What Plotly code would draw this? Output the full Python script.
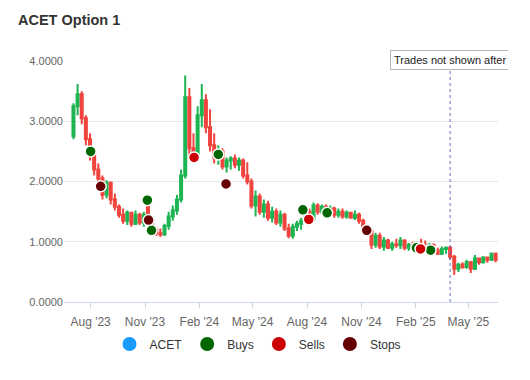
import pandas as pd
import plotly.graph_objects as go

# weekly candles
dates = pd.date_range("2023-07-03", periods=103, freq="7D")
opens = [2.75, 3.25, 3.45, 3.05, 2.70, 2.45, 2.20, 2.05, 1.78, 1.98,
         1.70, 1.58, 1.45, 1.35, 1.48, 1.30, 1.45, 1.32, 1.62, 1.35,
         1.20, 1.14, 1.12, 1.26, 1.42, 1.52, 1.70, 2.10, 3.40, 2.55,
         2.45, 3.10, 3.35, 2.90, 2.60, 2.40, 2.50, 2.25, 2.35, 2.38,
         2.28, 2.35, 2.10, 2.00, 1.60, 1.75, 1.50, 1.62, 1.40, 1.50,
         1.32, 1.45, 1.22, 1.10, 1.25, 1.30, 1.35, 1.50, 1.38, 1.60,
         1.50, 1.58, 1.48, 1.55, 1.45, 1.50, 1.42, 1.48, 1.40, 1.45,
         1.35, 1.22, 1.18, 0.95, 1.10, 0.92, 1.02, 0.90, 0.96, 0.94,
         1.02, 0.90, 0.95, 0.92, 0.96, 0.90, 0.88, 0.95, 0.86, 0.80,
         0.88, 0.90, 0.75, 0.55, 0.62, 0.58, 0.66, 0.55, 0.72, 0.66,
         0.74, 0.70, 0.80]
highs = [3.30, 3.62, 3.50, 3.10, 2.80, 2.50, 2.30, 2.10, 2.02, 2.00,
         1.80, 1.62, 1.55, 1.52, 1.50, 1.52, 1.48, 1.50, 1.72, 1.38,
         1.25, 1.22, 1.30, 1.50, 1.60, 1.78, 2.20, 3.76, 3.55, 2.80,
         3.25, 3.62, 3.45, 3.20, 2.80, 2.60, 2.55, 2.40, 2.42, 2.45,
         2.40, 2.38, 2.32, 2.05, 1.85, 1.80, 1.70, 1.68, 1.58, 1.55,
         1.52, 1.48, 1.30, 1.30, 1.35, 1.40, 1.58, 1.55, 1.65, 1.64,
         1.62, 1.62, 1.60, 1.58, 1.55, 1.55, 1.52, 1.50, 1.52, 1.48,
         1.38, 1.28, 1.20, 1.15, 1.15, 1.08, 1.05, 1.00, 1.05, 1.08,
         1.04, 0.98, 1.00, 1.00, 1.05, 1.02, 0.98, 0.97, 0.90, 0.92,
         0.92, 0.93, 0.78, 0.65, 0.66, 0.70, 0.68, 0.78, 0.74, 0.76,
         0.75, 0.82, 0.82]
lows = [2.70, 3.10, 2.95, 2.60, 2.35, 2.10, 1.95, 1.70, 1.72, 1.62,
        1.52, 1.40, 1.30, 1.28, 1.25, 1.28, 1.28, 1.25, 1.30, 1.15,
        1.10, 1.08, 1.10, 1.20, 1.35, 1.45, 1.65, 2.05, 2.45, 2.38,
        2.40, 2.90, 2.80, 2.50, 2.30, 2.28, 2.20, 2.15, 2.20, 2.22,
        2.18, 2.05, 1.95, 1.55, 1.42, 1.45, 1.40, 1.35, 1.32, 1.28,
        1.25, 1.18, 1.06, 1.05, 1.18, 1.20, 1.30, 1.32, 1.35, 1.45,
        1.45, 1.42, 1.44, 1.40, 1.40, 1.38, 1.38, 1.38, 1.36, 1.30,
        1.18, 1.12, 0.88, 0.90, 0.88, 0.85, 0.88, 0.85, 0.90, 0.88,
        0.86, 0.85, 0.88, 0.88, 0.88, 0.86, 0.84, 0.82, 0.78, 0.78,
        0.80, 0.70, 0.45, 0.50, 0.55, 0.55, 0.48, 0.53, 0.62, 0.64,
        0.65, 0.68, 0.66]
closes = [3.25, 3.45, 3.05, 2.70, 2.45, 2.20, 2.05, 1.78, 1.98, 1.70,
          1.58, 1.45, 1.35, 1.48, 1.30, 1.45, 1.32, 1.45, 1.35, 1.20,
          1.14, 1.12, 1.26, 1.42, 1.52, 1.70, 2.10, 3.40, 2.55, 2.45,
          3.10, 3.35, 2.90, 2.60, 2.40, 2.50, 2.25, 2.35, 2.38, 2.28,
          2.35, 2.10, 2.00, 1.60, 1.75, 1.50, 1.62, 1.40, 1.50, 1.32,
          1.45, 1.22, 1.10, 1.25, 1.30, 1.35, 1.50, 1.38, 1.60, 1.50,
          1.58, 1.48, 1.55, 1.45, 1.50, 1.42, 1.48, 1.40, 1.45, 1.35,
          1.22, 1.18, 0.95, 1.10, 0.92, 1.02, 0.90, 0.96, 0.94, 1.02,
          0.90, 0.95, 0.92, 0.96, 0.90, 0.88, 0.95, 0.86, 0.80, 0.88,
          0.90, 0.75, 0.55, 0.62, 0.58, 0.66, 0.55, 0.72, 0.66, 0.74,
          0.70, 0.80, 0.70]

buy_dates = ["2023-08-01", "2023-11-05", "2023-11-12", "2024-03-04",
             "2024-07-25", "2024-09-04", "2025-02-02", "2025-02-26"]
buy_prices = [2.50, 1.69, 1.19, 2.45, 1.53, 1.48, 0.90, 0.86]
sell_dates = ["2024-01-23", "2024-08-04", "2025-02-09"]
sell_prices = [2.40, 1.37, 0.88]
stop_dates = ["2023-08-18", "2023-11-07", "2024-03-17", "2024-11-10"]
stop_prices = [1.92, 1.36, 1.96, 1.19]

cutoff_date = "2025-03-31"
cutoff_text = "Trades not shown after"
x_range = ["2023-06-17", "2025-06-20"]
y_ticks = [0, 1, 2, 3, 4]

GREEN = "#1cb552"
RED = "#f0443e"
FONT = "Liberation Sans, Arial, Helvetica, sans-serif"
W, H = 500, 372
ML, MR, MT, MB = 56, 10, 53, 78
PW, PH = W - ML - MR, H - MT - MB

fig = go.Figure()
fig.add_trace(go.Candlestick(
    x=dates, open=opens, high=highs, low=lows, close=closes,
    name="ACET", showlegend=False, legendgroup="acet",
    increasing=dict(line=dict(color=GREEN, width=2), fillcolor=GREEN),
    decreasing=dict(line=dict(color=RED, width=2), fillcolor=RED),
    whiskerwidth=0,
))

marker_sets = [
    ("Buys", buy_dates, buy_prices, "#006600"),
    ("Sells", sell_dates, sell_prices, "#cc0000"),
    ("Stops", stop_dates, stop_prices, "#660000"),
]
for name, xs, ys, col in marker_sets:
    fig.add_trace(go.Scatter(
        x=xs, y=ys, mode="markers", name=name, showlegend=False,
        legendgroup=name,
        marker=dict(color=col, size=11, line=dict(color="white", width=1.5)),
    ))

# legend-only entries
for name, col, grp in [("ACET", "#1a9bff", "acet"), ("Buys", "#006600", "Buys"),
                       ("Sells", "#cc0000", "Sells"), ("Stops", "#660000", "Stops")]:
    fig.add_trace(go.Scatter(
        x=[None], y=[None], mode="markers", name=name, legendgroup=grp,
        marker=dict(color=col, size=14),
    ))

fig.add_shape(type="line", xref="x", yref="paper", x0=cutoff_date, x1=cutoff_date,
              y0=0, y1=0.963, line=dict(color="#6a6ac0", width=1, dash="dot"))
fig.add_annotation(x=cutoff_date, xref="x", y=0.963, yref="paper",
                   xanchor="center", yanchor="bottom", text=cutoff_text,
                   showarrow=False, bgcolor="white", bordercolor="#b8b8b8",
                   borderwidth=1, borderpad=3,
                   font=dict(size=11, color="#222", family=FONT))

fig.update_layout(
    width=W, height=H,
    margin=dict(l=ML, r=MR, t=MT, b=MB, autoexpand=False),
    paper_bgcolor="white", plot_bgcolor="white",
    font=dict(family=FONT, color="#333"),
    title=dict(text="<b>ACET Option 1</b>", x=10 / W, xref="container",
               xanchor="left", y=1 - 12 / H, yref="container", yanchor="middle",
               font=dict(size=14.5, color="#333", family=FONT)),
    legend=dict(orientation="h", xref="paper", x=(250 - ML) / PW, xanchor="center",
                yref="paper", y=-(336 - (H - MB)) / PH, yanchor="middle",
                font=dict(size=12, color="#333", family=FONT),
                itemclick=False),
    showlegend=True,
    hovermode=False,
)
fig.update_xaxes(
    type="date", range=x_range, rangeslider=dict(visible=False),
    tick0="2023-08-01", dtick="M3", tickformat="%b '%y",
    ticks="outside", ticklen=5, tickcolor="#ccd6eb",
    showline=True, linecolor="#ccd6eb", linewidth=1,
    showgrid=False, zeroline=False,
    tickfont=dict(size=12, color="#666", family=FONT),
    ticklabelstandoff=4,
)
fig.update_yaxes(
    range=[0, 4], tickvals=y_ticks, tickformat=".4f",
    showgrid=True, gridcolor="#e6e6e6", gridwidth=1,
    zeroline=False, showline=False, ticks="",
    tickfont=dict(size=11, color="#666", family=FONT),
)

fig.write_html("out.html")
